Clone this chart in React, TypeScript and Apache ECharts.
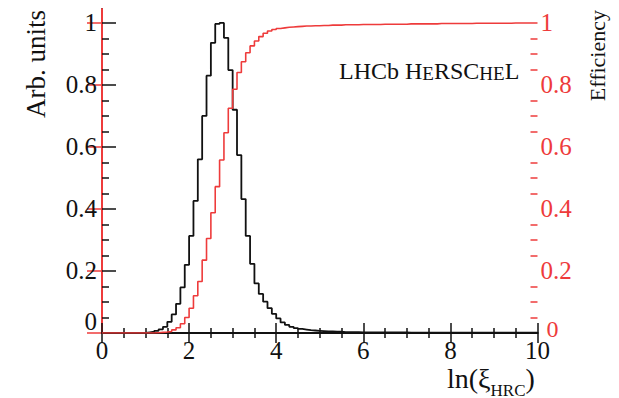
import React, { useEffect, useRef } from "react";
import * as echarts from "echarts";

// Histogram binning (x categories): 100 bins of width 0.1 from 0 to 10
const BIN_START = 0;
const BIN_WIDTH = 0.1;

// Black histogram: normalised ln(xi_HRC) distribution (Arb. units), one value per bin
const arbUnits: number[] = [
  0, 0, 0, 0, 0, 0, 0, 0, 0, 0,
  0.002, 0.004, 0.007, 0.012, 0.02, 0.036, 0.06, 0.094, 0.147, 0.22,
  0.313, 0.426, 0.56, 0.7, 0.83, 0.936, 0.997, 1.0, 0.952, 0.848,
  0.72, 0.574, 0.432, 0.313, 0.223, 0.16, 0.126, 0.101, 0.08, 0.062,
  0.047, 0.034, 0.026, 0.02, 0.016, 0.013, 0.011, 0.009, 0.008, 0.007,
  0.006, 0.005, 0.005, 0.004, 0.004, 0.003, 0.003, 0.003, 0.003, 0.002,
  0.002, 0.002, 0.002, 0.002, 0.002, 0.002, 0.002, 0.002, 0.002, 0.002,
  0.001, 0.001, 0.001, 0.001, 0.001, 0.001, 0.001, 0.001, 0.001, 0.001,
  0.001, 0.001, 0.001, 0.001, 0.001, 0.001, 0.001, 0.001, 0.001, 0.001,
  0.001, 0.001, 0.001, 0.001, 0.001, 0.001, 0.001, 0.001, 0.001, 0.001,
];

// Red histogram: efficiency, one value per bin
const efficiency: number[] = [
  0, 0, 0, 0, 0, 0, 0, 0, 0, 0,
  0, 0, 0.001, 0.002, 0.003, 0.005, 0.01, 0.017, 0.03, 0.05,
  0.08, 0.12, 0.166, 0.235, 0.305, 0.388, 0.472, 0.558, 0.646, 0.725,
  0.786, 0.84, 0.875, 0.904, 0.926, 0.942, 0.956, 0.967, 0.974, 0.979,
  0.982, 0.984, 0.986, 0.987, 0.988, 0.989, 0.99, 0.99, 0.991, 0.991,
  0.992, 0.992, 0.993, 0.993, 0.993, 0.994, 0.994, 0.994, 0.994, 0.995,
  0.995, 0.995, 0.995, 0.995, 0.996, 0.996, 0.996, 0.996, 0.996, 0.996,
  0.997, 0.997, 0.997, 0.997, 0.997, 0.997, 0.997, 0.998, 0.998, 0.998,
  0.998, 0.998, 0.998, 0.998, 0.998, 0.999, 0.999, 0.999, 0.999, 0.999,
  0.999, 0.999, 0.999, 0.999, 1.0, 1.0, 1.0, 1.0, 1.0, 1.0,
];

const yMajorTicks = [0, 0.2, 0.4, 0.6, 0.8, 1];
const yMinorTicks = [
  0.05, 0.1, 0.15, 0.25, 0.3, 0.35, 0.45, 0.5, 0.55, 0.65, 0.7, 0.75, 0.85, 0.9, 0.95,
];
const xMin = 0;
const xMax = 10;
const xInterval = 2;
const yMin = 0;
const yMax = 1.045;

const RED = "#ee3b3b";
const BLACK = "#111111";
const SERIF = "'Liberation Serif', 'DejaVu Serif', serif";
const TICK_FONT = 25;

function toStepData(values: number[]): number[][] {
  const pts: number[][] = values.map((v, i) => [
    +(BIN_START + i * BIN_WIDTH).toFixed(4),
    v,
  ]);
  pts.push([+(BIN_START + values.length * BIN_WIDTH).toFixed(4), values[values.length - 1]]);
  return pts;
}

export default function App() {
  const ref = useRef<HTMLDivElement>(null);

  useEffect(() => {
    if (!ref.current) return;
    const chart = echarts.init(ref.current, undefined, { renderer: "svg" });

    const xCommon = {
      type: "value" as const,
      min: xMin,
      max: xMax,
      interval: xInterval,
      splitLine: { show: false },
      axisLine: { show: true, lineStyle: { color: BLACK, width: 2 } },
      axisTick: { show: true, inside: true, length: 10, lineStyle: { color: BLACK, width: 1.5 } },
      minorTick: { show: true, splitNumber: 4, length: 5, lineStyle: { color: BLACK, width: 1.5 } },
    };

    const yCommon = {
      type: "value" as const,
      min: yMin,
      max: yMax,
      splitLine: { show: false },
    };

    chart.setOption({
      animation: false,
      backgroundColor: "#ffffff",
      grid: {
        left: 102,
        right: 81.5,
        top: 9,
        bottom: 65,
        containLabel: false,
        outerBoundsMode: "none",
      },
      xAxis: [
        {
          ...xCommon,
          position: "bottom",
          axisLabel: {
            show: true,
            color: BLACK,
            fontSize: TICK_FONT,
            fontFamily: SERIF,
            margin: 5,
          },
        },
        {
          ...xCommon,
          position: "top",
          axisLabel: { show: false },
        },
      ],
      yAxis: [
        {
          ...yCommon,
          position: "left",
          axisLine: { show: true, lineStyle: { color: BLACK, width: 2 } },
          axisTick: {
            show: true,
            inside: true,
            length: 14,
            customValues: yMajorTicks,
            lineStyle: { color: BLACK, width: 1.5 },
          },
          axisLabel: {
            show: true,
            customValues: yMajorTicks,
            color: BLACK,
            fontSize: TICK_FONT,
            fontFamily: SERIF,
            margin: 5,
            formatter: (v: number) => (v === 0 ? "{z|0}" : String(v)),
            rich: {
              z: { fontSize: TICK_FONT, fontFamily: SERIF, color: BLACK, padding: [0, 0, 24, 0] },
            },
          },
        },
        {
          ...yCommon,
          position: "right",
          axisLine: { show: true, lineStyle: { color: RED, width: 2 } },
          axisTick: {
            show: true,
            inside: true,
            length: 15,
            customValues: yMajorTicks,
            lineStyle: { color: RED, width: 1.5 },
          },
          axisLabel: {
            show: true,
            customValues: yMajorTicks,
            color: RED,
            fontSize: TICK_FONT,
            fontFamily: SERIF,
            margin: 3,
            formatter: (v: number) => (v === 0 ? "{z|0}" : String(v)),
            rich: {
              z: { fontSize: 24, fontFamily: SERIF, color: RED, padding: [0, 0, 8, 6] },
            },
          },
        },
        {
          ...yCommon,
          position: "left",
          axisLine: { show: false },
          axisTick: {
            show: true,
            inside: true,
            length: 7,
            customValues: yMinorTicks,
            lineStyle: { color: BLACK, width: 1.5 },
          },
          axisLabel: { show: false },
        },
        {
          ...yCommon,
          position: "right",
          axisLine: { show: false },
          axisTick: {
            show: true,
            inside: true,
            length: 7,
            customValues: yMinorTicks,
            lineStyle: { color: RED, width: 1.5 },
          },
          axisLabel: { show: false },
        },
      ],
      series: [
        {
          name: "Arb. units",
          type: "line",
          xAxisIndex: 0,
          yAxisIndex: 0,
          step: "end",
          symbol: "none",
          data: toStepData(arbUnits),
          lineStyle: { color: BLACK, width: 1.8 },
          z: 3,
        },
        {
          name: "Efficiency",
          type: "line",
          xAxisIndex: 0,
          yAxisIndex: 1,
          step: "end",
          symbol: "none",
          data: toStepData(efficiency),
          lineStyle: { color: RED, width: 1.6 },
          z: 4,
        },
      ],
      graphic: [
        {
          type: "text",
          x: 36,
          y: 10,
          rotation: Math.PI / 2,
          style: {
            text: "Arb. units",
            fontSize: 27,
            fontFamily: SERIF,
            fill: BLACK,
            align: "right",
            verticalAlign: "middle",
          },
        },
        {
          type: "text",
          x: 597,
          y: 10,
          rotation: Math.PI / 2,
          style: {
            text: "Efficiency",
            fontSize: 22,
            fontFamily: SERIF,
            fill: BLACK,
            align: "right",
            verticalAlign: "middle",
          },
        },
        {
          type: "text",
          x: 339,
          y: 71,
          style: {
            text: "{b|LHCb H}{s|E}{b|RSC}{s|HE}{b|L}",
            fill: BLACK,
            align: "left",
            verticalAlign: "middle",
            rich: {
              b: { fontSize: 24, fontFamily: SERIF, fill: BLACK, verticalAlign: "bottom", lineHeight: 24 },
              s: { fontSize: 19, fontFamily: SERIF, fill: BLACK, verticalAlign: "bottom", lineHeight: 19 },
            },
          },
        },
        {
          type: "text",
          x: 447,
          y: 378,
          style: {
            text: "{m|ln(ξ}{sub|HRC}{m|)}",
            fill: BLACK,
            align: "left",
            verticalAlign: "middle",
            rich: {
              m: { fontSize: 28, fontFamily: SERIF, fill: BLACK },
              sub: { fontSize: 17, fontFamily: SERIF, fill: BLACK, padding: [24, 0, 0, 0] },
            },
          },
        },
      ],
    });

    return () => chart.dispose();
  }, []);

  return (
    <div
      ref={ref}
      style={{ position: "fixed", left: 0, top: 0, width: 619, height: 398, background: "#fff" }}
    />
  );
}
